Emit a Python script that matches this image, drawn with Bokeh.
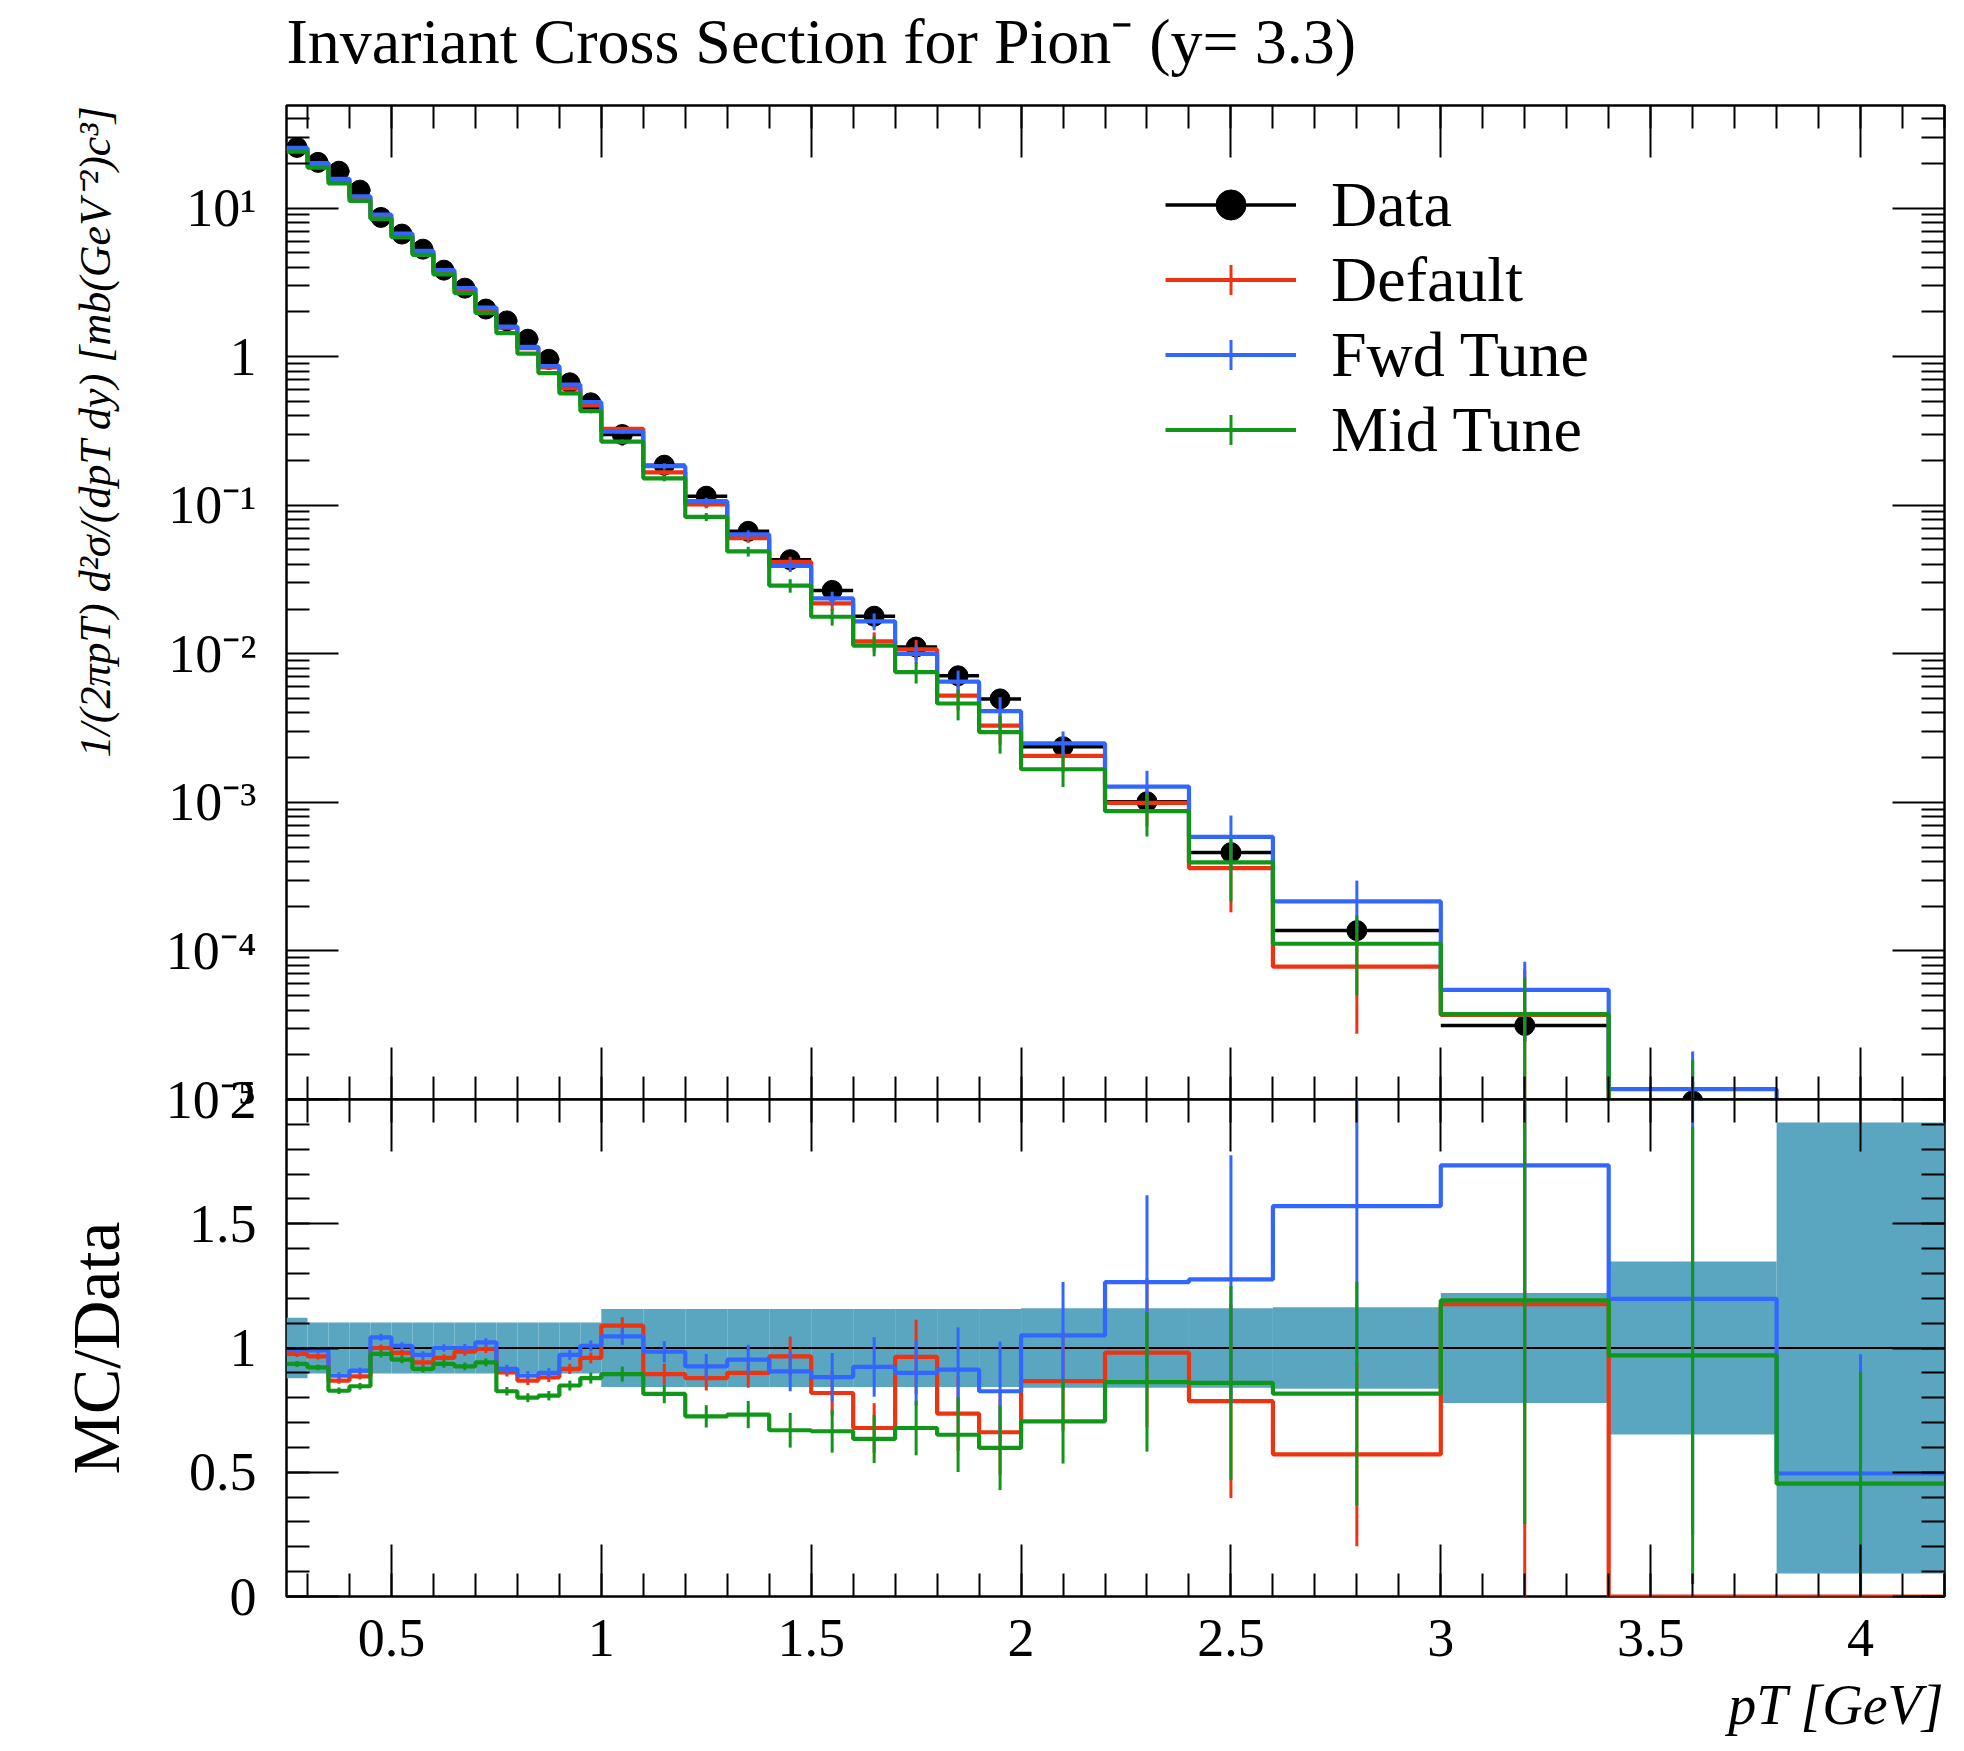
import numpy as np
from bokeh.plotting import figure
from bokeh.layouts import column
from bokeh.models import (FixedTicker, LinearAxis, LogAxis, Legend, LegendItem, Title,
                          CustomJSTickFormatter, Range1d)
from bokeh.embed import file_html
from bokeh.resources import INLINE

# ---------------- data ----------------
pt_edges = [0.25, 0.30, 0.35, 0.40, 0.45, 0.50, 0.55, 0.60, 0.65, 0.70, 0.75, 0.80,
            0.85, 0.90, 0.95, 1.00, 1.10, 1.20, 1.30, 1.40, 1.50, 1.60, 1.70, 1.80,
            1.90, 2.00, 2.20, 2.40, 2.60, 3.00, 3.40, 3.80, 4.20]

data_val = [25.6, 20.3, 17.7, 13.2, 8.65, 6.68, 5.29, 3.82, 2.89, 2.09, 1.74, 1.31,
            0.959, 0.667, 0.489, 0.299, 0.186, 0.115, 0.0667, 0.0430, 0.0267, 0.0179,
            0.0111, 0.00711, 0.00497, 0.00237, 0.00101, 0.000459, 0.000137, 3.15e-5,
            9.8e-6, 3.0e-6]

data_relerr = [0.122, 0.103, 0.103, 0.103, 0.103, 0.103, 0.103, 0.103, 0.103, 0.103,
               0.103, 0.103, 0.103, 0.103, 0.103, 0.157, 0.157, 0.157, 0.157, 0.157,
               0.157, 0.157, 0.157, 0.157, 0.157, 0.160, 0.160, 0.160, 0.164, 0.221,
               0.348, 0.907]

ratio_default = [0.976, 0.966, 0.869, 0.886, 1.000, 0.980, 0.942, 0.960, 0.985, 0.996,
                 0.902, 0.869, 0.882, 0.916, 0.960, 1.090, 0.895, 0.879, 0.900, 0.966,
                 0.819, 0.678, 0.964, 0.736, 0.661, 0.867, 0.981, 0.786, 0.572, 1.176,
                 0.0, 0.0]
ratio_fwd = [0.992, 0.990, 0.889, 0.909, 1.043, 1.009, 0.972, 1.000, 1.000, 1.023,
             0.916, 0.889, 0.900, 0.972, 1.009, 1.047, 0.985, 0.926, 0.953, 0.906,
             0.883, 0.924, 0.900, 0.913, 0.826, 1.051, 1.265, 1.276, 1.571, 1.735,
             1.198, 0.495]
ratio_mid = [0.936, 0.922, 0.828, 0.846, 0.976, 0.953, 0.916, 0.936, 0.926, 0.942,
             0.826, 0.800, 0.808, 0.849, 0.879, 0.895, 0.815, 0.725, 0.732, 0.669,
             0.665, 0.634, 0.678, 0.651, 0.598, 0.705, 0.863, 0.860, 0.816, 1.192,
             0.970, 0.454]

err_default = [0.012, 0.012, 0.013, 0.013, 0.014, 0.014, 0.015, 0.015, 0.016, 0.016,
               0.017, 0.018, 0.019, 0.020, 0.022, 0.034, 0.042, 0.050, 0.060, 0.080,
               0.090, 0.100, 0.150, 0.150, 0.170, 0.200, 0.300, 0.390, 0.370, 1.200,
               0.0, 0.0]
err_fwd = [0.012, 0.012, 0.013, 0.013, 0.014, 0.014, 0.015, 0.015, 0.016, 0.016,
           0.017, 0.018, 0.019, 0.020, 0.022, 0.034, 0.043, 0.050, 0.060, 0.080,
           0.097, 0.120, 0.130, 0.170, 0.200, 0.215, 0.350, 0.500, 0.600, 0.950,
           0.950, 0.480]
err_mid = [0.012, 0.012, 0.013, 0.013, 0.014, 0.014, 0.015, 0.015, 0.016, 0.016,
           0.017, 0.018, 0.019, 0.020, 0.022, 0.030, 0.037, 0.045, 0.055, 0.070,
           0.086, 0.097, 0.110, 0.150, 0.170, 0.170, 0.280, 0.390, 0.450, 0.900,
           0.920, 0.450]

series_names = ["Default", "Fwd Tune", "Mid Tune"]
x_tick_vals = [0.5, 1.0, 1.5, 2.0, 2.5, 3.0, 3.5, 4.0]
ratio_tick_vals = [0.0, 0.5, 1.0, 1.5, 2.0]
title_text = "Invariant Cross Section for Pion\u207b (y= 3.3)"
ylabel_text = "1/(2\u03c0pT) d\u00b2\u03c3/(dpT dy) [mb(GeV\u207b\u00b2)c\u00b3]"
xlabel_text = "pT [GeV]"

# ---------------- style ----------------
FONT = "Liberation Serif"
RED, BLUE, GREEN = "#EE3311", "#3366FF", "#109618"
BAND = "#5aa6c1"
W = 1956
LEFT, RIGHT = 286, 12
MAIN_TOP, MAIN_FRAME, MAIN_BOT = 140, 994, 30
TOP_SHIFT = 35          # main canvas pulled up so that its frame starts at y = 105
RAT_TOP, RAT_FRAME, RAT_BOTTOM = 30, 497, 153
RAT_SHIFT = MAIN_BOT + RAT_TOP   # ratio canvas overlaps so both frames touch
X0, X1 = 0.25, 4.2
Y0, Y1 = 1e-5, 49.0
LW = 4.2

edges = np.array(pt_edges)
lo, hi = edges[:-1], edges[1:]
ctr = 0.5 * (lo + hi)
dv = np.array(data_val)
rel = np.array(data_relerr)

x_minor = [round(0.3 + 0.1 * i, 2) for i in range(40)]
y_major = [1e-5, 1e-4, 1e-3, 1e-2, 1e-1, 1.0, 10.0]
y_minor = [k * 10.0 ** e for e in range(-5, 2) for k in range(2, 10) if k * 10.0 ** e < Y1]
r_minor = [round(0.1 * i, 2) for i in range(21)]

blank_fmt = CustomJSTickFormatter(code="return '';")

def style_axis(ax, major, minor, labels=True, size="54px"):
    ax.ticker = FixedTicker(ticks=major, minor_ticks=minor)
    ax.major_tick_in = 52
    ax.major_tick_out = 0
    ax.minor_tick_in = 23
    ax.minor_tick_out = 0
    ax.major_tick_line_width = 2
    ax.minor_tick_line_width = 2
    ax.major_tick_line_color = "black"
    ax.minor_tick_line_color = "black"
    ax.axis_line_color = None
    if labels:
        ax.major_label_text_font = FONT
        ax.major_label_text_font_size = size
        ax.major_label_text_color = "black"
    else:
        ax.formatter = blank_fmt
        ax.major_label_text_font_size = "1px"
        ax.major_label_standoff = 0

def step_xy(vals):
    return np.repeat(edges, 2)[1:-1], np.repeat(np.asarray(vals, dtype=float), 2)

# ---------------- main panel ----------------
main = figure(width=W, height=MAIN_TOP + MAIN_FRAME + MAIN_BOT, y_axis_type="log",
              x_range=Range1d(X0, X1), y_range=Range1d(Y0, Y1),
              min_border_left=LEFT, min_border_right=RIGHT,
              min_border_top=MAIN_TOP, min_border_bottom=MAIN_BOT,
              margin=(-TOP_SHIFT, 0, 0, 0),
              output_backend="svg", toolbar_location=None, title=title_text)
main.title.text_font = FONT
main.title.text_font_size = "64px"
main.title.text_font_style = "normal"
main.title.text_color = "black"
main.title.align = "left"
main.title.standoff = 57
main.grid.visible = False
main.outline_line_color = "black"
main.outline_line_width = 2.5
main.background_fill_color = "white"
main.border_fill_color = "white"

log_fmt = CustomJSTickFormatter(code="""
const e = Math.round(Math.log10(tick));
if (e == 0) return "1";
const sup = {"-": "\u207b", "0": "\u2070", "1": "\u00b9", "2": "\u00b2", "3": "\u00b3", "4": "\u2074", "5": "\u2075"};
let s = "";
for (const c of String(e)) s += sup[c];
return "10" + s;
""")

style_axis(main.xaxis[0], x_tick_vals, x_minor, labels=False)
style_axis(main.yaxis[0], y_major, y_minor, labels=True)
main.yaxis[0].formatter = log_fmt
main.yaxis[0].major_label_standoff = 30
top_ax = LinearAxis()
style_axis(top_ax, x_tick_vals, x_minor, labels=False)
main.add_layout(top_ax, "above")
right_ax = LogAxis()
style_axis(right_ax, y_major, y_minor, labels=False)
main.add_layout(right_ax, "right")

ylab = Title(text=ylabel_text, align="right", text_font=FONT, text_font_size="44px",
             text_font_style="italic", text_color="black", standoff=85)
main.add_layout(ylab, "left")

# data
d_h = main.segment(x0=lo, y0=dv, x1=hi, y1=dv, line_color="black", line_width=3.5)
d_v = main.segment(x0=ctr, y0=dv * (1 - rel), x1=ctr, y1=dv * (1 + rel),
                   line_color="black", line_width=3)
d_dot = main.scatter(x=ctr, y=dv, size=20, fill_color="black", line_color="black")
# zero-size crosses: only used to draw the error-bar tick in the legend
d_cross = main.scatter(x=ctr, y=dv, marker="cross", size=0, line_color="black", line_width=3)

ratios = [np.array(ratio_default), np.array(ratio_fwd), np.array(ratio_mid)]
errs = [np.array(err_default), np.array(err_fwd), np.array(err_mid)]
colors = [RED, BLUE, GREEN]
FLOOR = 1e-12

legend_items = [LegendItem(label="Data", renderers=[d_h, d_cross, d_dot])]

for name, r, e, c in zip(series_names, ratios, errs, colors):
    mc = np.maximum(dv * r, FLOOR)
    xs, ys = step_xy(mc)
    ln = main.line(xs, ys, line_color=c, line_width=LW)
    m = e > 0
    main.segment(x0=ctr[m], y0=np.maximum(dv * (r - e), FLOOR)[m], x1=ctr[m],
                 y1=(dv * (r + e))[m], line_color=c, line_width=3)
    cr = main.scatter(x=ctr, y=mc, marker="cross", size=0, line_color=c, line_width=3)
    legend_items.append(LegendItem(label=name, renderers=[ln, cr]))

legend = Legend(items=legend_items, location=(879, 632), glyph_width=131, glyph_height=75,
                label_height=75, label_standoff=35, spacing=0, padding=0, margin=0,
                label_text_font=FONT, label_text_font_size="64px",
                label_text_color="black",
                border_line_color=None, background_fill_alpha=0)
main.add_layout(legend)

# ---------------- ratio panel ----------------
rat = figure(width=W, height=RAT_TOP + RAT_FRAME + RAT_BOTTOM, x_range=main.x_range,
             y_range=Range1d(0, 2),
             min_border_left=LEFT, min_border_right=RIGHT,
             min_border_top=RAT_TOP, min_border_bottom=RAT_BOTTOM,
             margin=(-RAT_SHIFT, 0, 0, 0),
             output_backend="svg", toolbar_location=None)
rat.grid.visible = False
rat.outline_line_color = "black"
rat.outline_line_width = 2.5
rat.background_fill_color = "white"
rat.border_fill_color = None

style_axis(rat.xaxis[0], x_tick_vals, x_minor, labels=True)
rat.xaxis[0].formatter = CustomJSTickFormatter(code="return String(tick);")
rat.xaxis[0].major_label_standoff = 23
style_axis(rat.yaxis[0], ratio_tick_vals, r_minor, labels=True)
rat.yaxis[0].formatter = CustomJSTickFormatter(code="return String(tick);")
rat.yaxis[0].major_label_standoff = 30
rat.yaxis[0].axis_label = "MC/Data"
rat.yaxis[0].axis_label_text_font = FONT
rat.yaxis[0].axis_label_text_font_size = "68px"
rat.yaxis[0].axis_label_text_font_style = "normal"
rat.yaxis[0].axis_label_text_color = "black"
rat.yaxis[0].axis_label_standoff = 52
rtop = LinearAxis()
style_axis(rtop, x_tick_vals, x_minor, labels=False)
rat.add_layout(rtop, "above")
rright = LinearAxis()
style_axis(rright, ratio_tick_vals, r_minor, labels=False)
rat.add_layout(rright, "right")

rat.quad(left=lo, right=hi, bottom=1 - rel, top=1 + rel, fill_color=BAND, line_color=None)
rat.line([edges[0], edges[-1]], [1.0, 1.0], line_color="black", line_width=2.2)

for r, e, c in zip(ratios, errs, colors):
    xs, ys = step_xy(r)
    rat.line(xs, ys, line_color=c, line_width=LW)
    m = e > 0
    rat.segment(x0=ctr[m], y0=(r - e)[m], x1=ctr[m], y1=(r + e)[m], line_color=c, line_width=3)

xlab = Title(text=xlabel_text, align="right", text_font=FONT, text_font_size="56px",
             text_font_style="italic", text_color="black", standoff=26)
rat.add_layout(xlab, "below")

layout = column(main, rat, spacing=0)
open("out.html", "w").write(file_html(layout, INLINE))
